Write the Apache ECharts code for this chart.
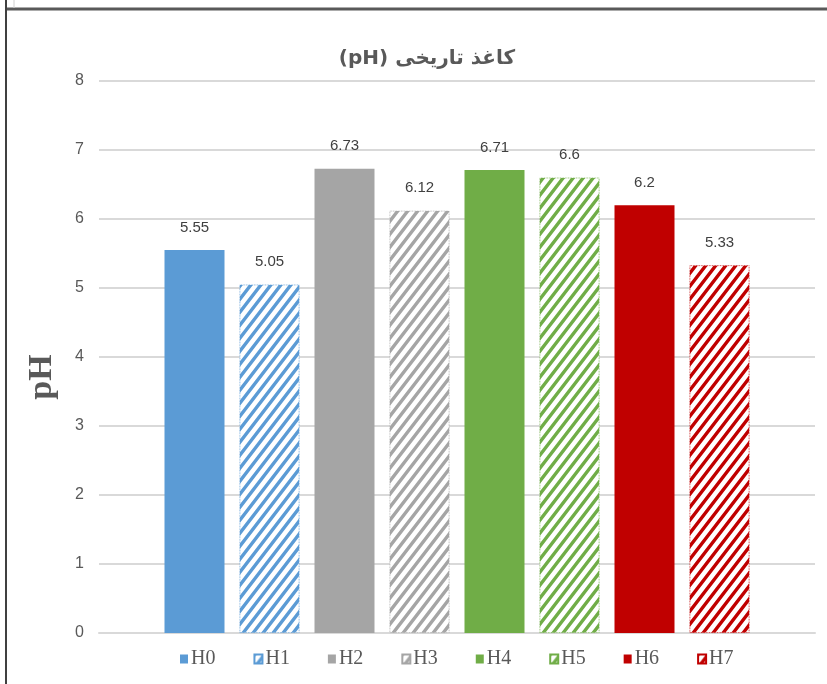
<!DOCTYPE html>
<html>
<head>
<meta charset="utf-8">
<script src="https://cdn.jsdelivr.net/npm/echarts@6/dist/echarts.min.js"></script>
<style>
  html, body { margin: 0; padding: 0; background: #fff; }
  #chart { width: 827px; height: 684px; }
</style>
</head>
<body>
<div id="chart"></div>
<script>
// series names (legend) and pH values
const seriesNames = ['H0', 'H1', 'H2', 'H3', 'H4', 'H5', 'H6', 'H7']
const phValues = [5.55, 5.05, 6.73, 6.12, 6.71, 6.6, 6.2, 5.33]
const baseColors = ['#5B9BD5', '#5B9BD5', '#A5A5A5', '#A5A5A5', '#70AD47', '#70AD47', '#C00000', '#C00000']
const hatched = [false, true, false, true, false, true, false, true]
const yTicks = [0, 1, 2, 3, 4, 5, 6, 7, 8]

const chart = echarts.init(document.getElementById('chart'))

// diagonal stripe pattern (/ direction)
function stripes (color) {
  const w = 10
  const h = 13
  const c = document.createElement('canvas')
  c.width = w
  c.height = h
  const ctx = c.getContext('2d')
  ctx.fillStyle = '#fff'
  ctx.fillRect(0, 0, w, h)
  ctx.strokeStyle = color
  ctx.lineWidth = 3.4
  ctx.beginPath()
  ctx.moveTo(-w, 2 * h); ctx.lineTo(2 * w, -h)
  ctx.moveTo(-2 * w, 2 * h); ctx.lineTo(w, -h)
  ctx.moveTo(0, 2 * h); ctx.lineTo(3 * w, -h)
  ctx.stroke()
  return { image: c, repeat: 'repeat' }
}

const numFont = '"Liberation Sans Narrow", "Liberation Sans", sans-serif'

const series = seriesNames.map((name, i) => ({
  name: name,
  type: 'bar',
  barWidth: 60,
  barGap: '25%',
  data: [phValues[i]],
  itemStyle: hatched[i]
    ? { color: stripes(baseColors[i]), borderColor: baseColors[i], borderWidth: 0.8, borderType: 'dotted' }
    : { color: baseColors[i] },
  label: {
    show: true,
    position: 'top',
    distance: 15,
    color: '#404040',
    fontSize: 15,
    fontFamily: numFont
  }
}))

chart.setOption({
  animation: false,
  backgroundColor: '#fff',
  title: {
    text: '(pH) كاغذ تاريخی',
    left: 422,
    textAlign: 'center',
    top: 44,
    textStyle: { fontSize: 20, fontWeight: 'bold', color: '#595959', fontFamily: '"DejaVu Sans", sans-serif' }
  },
  grid: { left: 99, right: 12, top: 81, bottom: 51 },
  legend: {
    data: seriesNames,
    bottom: 10,
    left: 175,
    itemWidth: 8,
    itemHeight: 9,
    itemGap: 38,
    icon: 'rect',
    textStyle: { color: '#595959', fontSize: 20, fontFamily: '"Liberation Serif", serif', padding: [0, 0, 0, -2] }
  },
  xAxis: {
    type: 'category',
    data: ['pH'],
    axisLine: { lineStyle: { color: '#D9D9D9', width: 2 } },
    axisTick: { show: false },
    axisLabel: { show: false }
  },
  yAxis: {
    type: 'value',
    min: yTicks[0],
    max: yTicks[yTicks.length - 1],
    interval: 1,
    name: 'pH',
    nameLocation: 'middle',
    nameGap: 40,
    nameTextStyle: { fontSize: 34, fontWeight: 'bold', color: '#595959', fontFamily: '"Liberation Serif", serif', padding: [0, 0, 0, -40] },
    axisLine: { show: false },
    axisTick: { show: false },
    splitLine: { lineStyle: { color: '#D9D9D9', width: 2 } },
    axisLabel: { color: '#595959', fontSize: 16, margin: 15, fontFamily: numFont }
  },
  graphic: [
    { type: 'line', shape: { x1: 5, y1: 9, x2: 827, y2: 9 }, style: { stroke: '#595959', lineWidth: 3 } },
    { type: 'line', shape: { x1: 6, y1: 0, x2: 6, y2: 684 }, style: { stroke: '#404040', lineWidth: 2 } },
    { type: 'line', shape: { x1: 14, y1: 0, x2: 14, y2: 8 }, style: { stroke: '#D0D0D0', lineWidth: 1 } }
  ],
  series: series
})
</script>
</body>
</html>
